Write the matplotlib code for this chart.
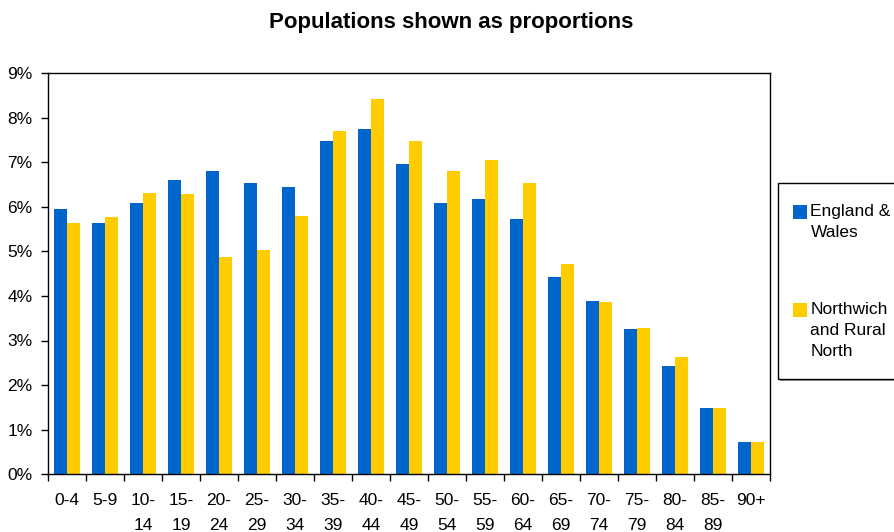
import numpy as np
import matplotlib
matplotlib.use("Agg")
from matplotlib import pyplot as plt
from matplotlib.patches import Rectangle

plt.rcParams["font.family"] = ["Liberation Sans", "DejaVu Sans"]

# Data
age_bands = ["0-4", "5-9", "10-\n14", "15-\n19", "20-\n24", "25-\n29", "30-\n34",
             "35-\n39", "40-\n44", "45-\n49", "50-\n54", "55-\n59", "60-\n64",
             "65-\n69", "70-\n74", "75-\n79", "80-\n84", "85-\n89", "90+"]
england_wales = [5.95, 5.65, 6.08, 6.60, 6.80, 6.55, 6.45, 7.49, 7.76, 6.96,
                 6.10, 6.18, 5.74, 4.43, 3.88, 3.26, 2.43, 1.48, 0.73]
northwich = [5.63, 5.78, 6.32, 6.30, 4.88, 5.03, 5.79, 7.71, 8.43, 7.49,
             6.82, 7.05, 6.53, 4.73, 3.86, 3.29, 2.64, 1.48, 0.72]
series_names = ["England &\nWales", "Northwich\nand Rural\nNorth"]
colors = ["#0066CC", "#FFCC00"]

W, H = 895, 532
fs = 12.5

fig = plt.figure(figsize=(W / 100, H / 100), dpi=100)
ax = fig.add_axes([48 / W, 58 / H, 722 / W, 400.5 / H])


def px(x, y):
    # pixel position from top-left -> figure fraction
    return x / W, 1 - y / H


x = np.arange(len(age_bands))
w = 0.34
ax.bar(x - w / 2, np.array(england_wales) / 100, w, color=colors[0])
ax.bar(x + w / 2, np.array(northwich) / 100, w, color=colors[1])

ax.set_xlim(-0.5, len(age_bands) - 0.5)
ax.set_ylim(0, 0.09)
ax.set_yticks(np.arange(0, 0.091, 0.01))
ax.set_yticklabels([f"{i}%" for i in range(10)])
ax.set_xticks(x)
ax.set_xticklabels(age_bands, va="top", linespacing=1.8)
ax.set_xticks(np.arange(-0.5, len(age_bands), 1), minor=True)
ax.tick_params(axis="x", which="major", length=0, pad=14, labelsize=fs)
ax.tick_params(axis="x", which="minor", length=5, direction="out", width=1)
ax.tick_params(axis="y", length=5, direction="out", width=1, labelsize=fs, pad=6)
for s in ax.spines.values():
    s.set_linewidth(1)
    s.set_color("black")

fig.text(*px(451, 28), "Populations shown as proportions", fontsize=16,
         fontweight="bold", ha="center", va="baseline")

# legend box (drawn by hand, Excel style)
fig.patches.append(Rectangle(px(780, 381), 125 / W, 196 / H, transform=fig.transFigure,
                             facecolor="#999999", edgecolor="none", zorder=1))
fig.patches.append(Rectangle(px(777.5, 379), 125 / W, 196 / H, transform=fig.transFigure,
                             facecolor="white", edgecolor="black", linewidth=1, zorder=2))
entry_tops = [205, 303]
for name, col, top in zip(series_names, colors, entry_tops):
    fig.patches.append(Rectangle(px(793.5, top + 13.5), 13.5 / W, 13.5 / H,
                                 transform=fig.transFigure, facecolor=col,
                                 edgecolor="none", zorder=3))
    fig.text(*px(810.5, top - 1), name, fontsize=fs, ha="left", va="top",
             linespacing=1.5, zorder=4)

fig.savefig("out.png", dpi=100)
